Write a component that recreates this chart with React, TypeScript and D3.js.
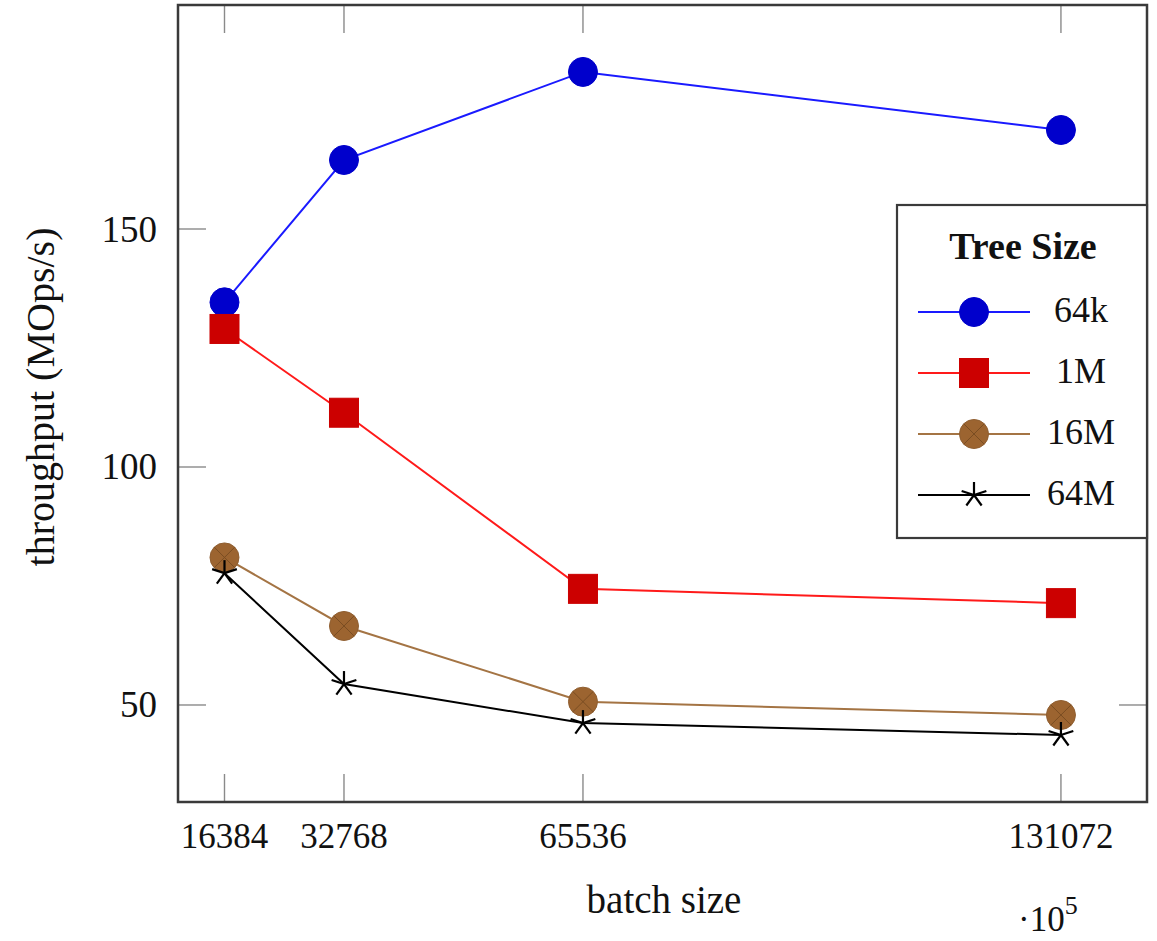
import React from "react";
import * as d3 from "d3";

const batchSizes = [16384, 32768, 65536, 131072];
const tp64k = [134.6, 164.5, 183.0, 170.8];
const tp1M = [129.0, 111.4, 74.4, 71.4];
const tp16M = [81.0, 66.6, 50.7, 47.9];
const tp64M = [77.7, 54.4, 46.2, 43.7];
const yTicks = [50, 100, 150];
const seriesNames = ["64k", "1M", "16M", "64M"];

const W = 1157;
const H = 941;
const L = 178, R = 1147, T = 5, B = 802;
const FONT = "'Liberation Serif', 'DejaVu Serif', serif";

type MarkKind = "circle" | "square" | "otimes" | "star";
const styles: { line: string; fill: string; stroke: string; mark: MarkKind }[] = [
  { line: "#1a1aff", fill: "#0000cc", stroke: "#0000cc", mark: "circle" },
  { line: "#ff1a1a", fill: "#cc0000", stroke: "#cc0000", mark: "square" },
  { line: "#a47444", fill: "#9c6430", stroke: "#8f5e30", mark: "otimes" },
  { line: "#000000", fill: "none", stroke: "#000000", mark: "star" },
];

function Marker({ kind, x, y, fill, stroke }: { kind: MarkKind; x: number; y: number; fill: string; stroke: string }) {
  const r = 14.5;
  if (kind === "circle") return <circle cx={x} cy={y} r={r} fill={fill} stroke={stroke} strokeWidth={1} />;
  if (kind === "square") return <rect x={x - r} y={y - r} width={2 * r} height={2 * r} fill={fill} stroke={stroke} strokeWidth={1} />;
  if (kind === "otimes") {
    const c = r * 0.7071;
    return (
      <g>
        <circle cx={x} cy={y} r={r} fill={fill} stroke={stroke} strokeWidth={1} />
        <line x1={x - c} y1={y - c} x2={x + c} y2={y + c} stroke="#7a4d22" strokeWidth={1} />
        <line x1={x - c} y1={y + c} x2={x + c} y2={y - c} stroke="#7a4d22" strokeWidth={1} />
      </g>
    );
  }
  const rs = 13;
  const arms = d3.range(5).map((k) => {
    const a = (-90 + 72 * k) * (Math.PI / 180);
    return <line key={k} x1={x} y1={y} x2={x + rs * Math.cos(a)} y2={y + rs * Math.sin(a)} stroke={stroke} strokeWidth={2.2} />;
  });
  return <g>{arms}</g>;
}

export default function App() {
  const x = d3.scaleLinear().domain([10009, 142872]).range([L, R]);
  const y = d3.scaleLinear().domain([29.62, 197.06]).range([B, T]);
  const data = [tp64k, tp1M, tp16M, tp64M];
  const line = d3
    .line<[number, number]>()
    .x((d) => x(d[0]))
    .y((d) => y(d[1]));

  const tickLen = 28;
  const tickColor = "#8a8a8a";

  const legX = 897, legY = 205, legW = R - 897, legH = 333;
  const entryY = [312, 373, 434, 495];

  return (
    <svg width={W} height={H} style={{ position: "absolute", left: 0, top: 0, background: "#fff" }} fontFamily={FONT}>
      <rect x={0} y={0} width={W} height={H} fill="#fff" />
      {/* ticks */}
      {batchSizes.map((b) => (
        <g key={"xt" + b}>
          <line x1={x(b)} x2={x(b)} y1={B} y2={B - tickLen} stroke={tickColor} strokeWidth={1.4} />
          <line x1={x(b)} x2={x(b)} y1={T} y2={T + tickLen} stroke={tickColor} strokeWidth={1.4} />
          <text x={x(b)} y={848} fontSize={35} textAnchor="middle" fill="#111">
            {b}
          </text>
        </g>
      ))}
      {yTicks.map((t) => (
        <g key={"yt" + t}>
          <line x1={L} x2={L + tickLen} y1={y(t)} y2={y(t)} stroke={tickColor} strokeWidth={1.4} />
          <line x1={R} x2={R - tickLen} y1={y(t)} y2={y(t)} stroke={tickColor} strokeWidth={1.4} />
          <text x={157} y={y(t) + 12.5} fontSize={37} textAnchor="end" fill="#111">
            {t}
          </text>
        </g>
      ))}
      {/* series */}
      {data.map((vals, i) => (
        <path
          key={"l" + i}
          d={line(batchSizes.map((b, j) => [b, vals[j]] as [number, number])) || ""}
          fill="none"
          stroke={styles[i].line}
          strokeWidth={2}
        />
      ))}
      {data.map((vals, i) =>
        batchSizes.map((b, j) => (
          <Marker key={"m" + i + "-" + j} kind={styles[i].mark} x={x(b)} y={y(vals[j])} fill={styles[i].fill} stroke={styles[i].stroke} />
        ))
      )}
      {/* frame */}
      <rect x={L} y={T} width={R - L} height={B - T} fill="none" stroke="#3a3a3a" strokeWidth={2.5} />
      {/* legend */}
      <rect x={legX} y={legY} width={legW} height={legH} fill="#fff" stroke="#3a3a3a" strokeWidth={2.2} />
      <text x={1023} y={259} fontSize={38} fontWeight="bold" textAnchor="middle" fill="#111">
        Tree Size
      </text>
      {seriesNames.map((n, i) => (
        <g key={"lg" + i}>
          <line x1={918} x2={1030} y1={entryY[i]} y2={entryY[i]} stroke={styles[i].line} strokeWidth={2} />
          <Marker kind={styles[i].mark} x={974} y={entryY[i]} fill={styles[i].fill} stroke={styles[i].stroke} />
          <text x={1081} y={entryY[i] + 10} fontSize={36} textAnchor="middle" fill="#111">
            {n}
          </text>
        </g>
      ))}
      {/* axis labels */}
      <text x={664} y={913} fontSize={39} textAnchor="middle" fill="#111">
        batch size
      </text>
      <text transform={`translate(54, 397) rotate(-90)`} fontSize={40} textAnchor="middle" fill="#111">
        throughput (MOps/s)
      </text>
      <text x={1018} y={931} fontSize={35} fill="#111">
        ·10
        <tspan dy={-17} fontSize={26}>5</tspan>
      </text>
    </svg>
  );
}
